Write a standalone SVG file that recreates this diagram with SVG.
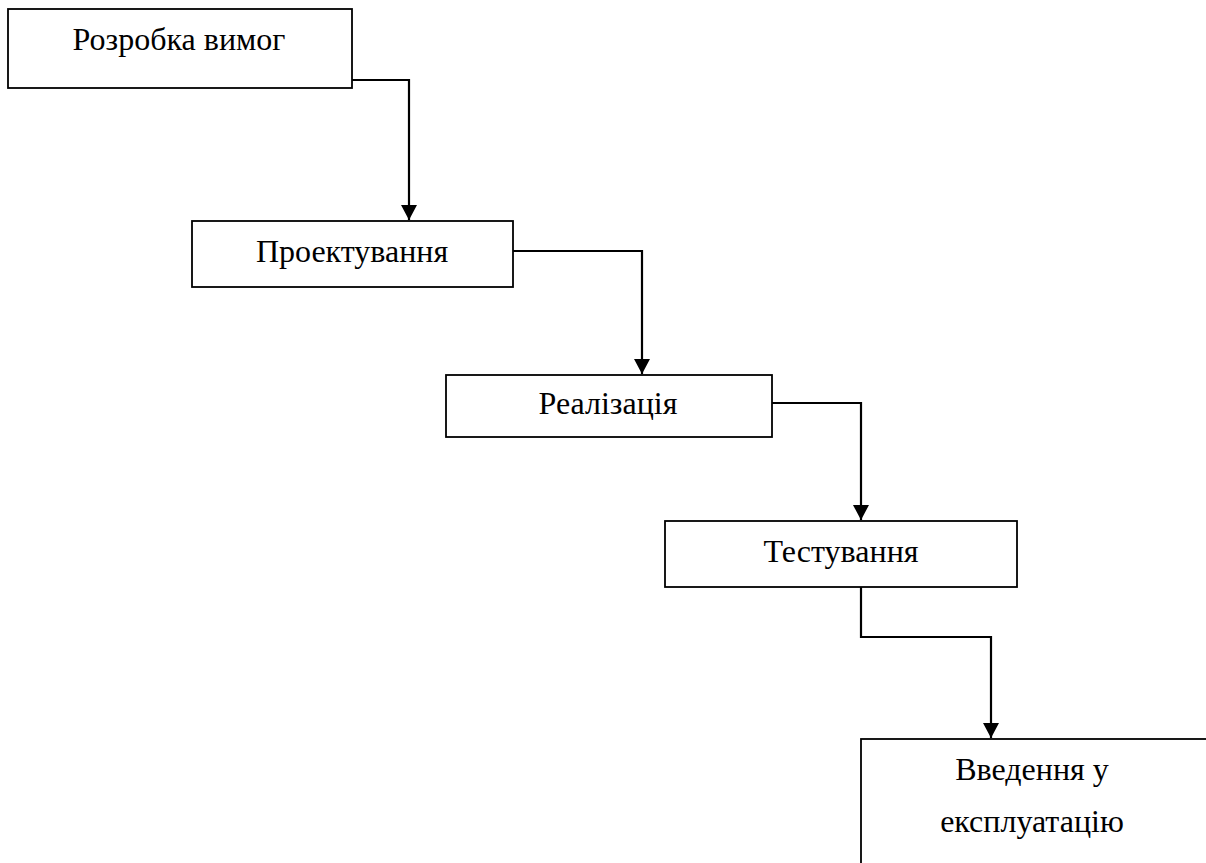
<svg xmlns="http://www.w3.org/2000/svg" width="1206" height="863" viewBox="0 0 1206 863">
  <style>
    .box { fill: #ffffff; stroke: #000000; stroke-width: 1.8; }
    .lbl { font-family: "Liberation Serif", "Times New Roman", serif; font-size: 32px; fill: #000000; text-anchor: middle; }
    .conn { fill: none; stroke: #000000; stroke-width: 2.2; }
  </style>
  <defs>
    <marker id="arrow" markerUnits="userSpaceOnUse" markerWidth="16" markerHeight="16" refX="15" refY="8" orient="auto">
      <path d="M0,0 L15,8 L0,16 z" fill="#000000"/>
    </marker>
  </defs>
  <rect width="1206" height="863" fill="#ffffff"/>
  <g id="n1">
    <rect class="box" x="8" y="9" width="344" height="79"/>
    <text class="lbl" x="179" y="50">Розробка вимог</text>
  </g>
  <g id="n2">
    <rect class="box" x="192" y="221" width="321" height="66"/>
    <text class="lbl" x="352" y="262">Проектування</text>
  </g>
  <g id="n3">
    <rect class="box" x="446" y="375" width="326" height="62"/>
    <text class="lbl" x="608" y="414">Реалізація</text>
  </g>
  <g id="n4">
    <rect class="box" x="665" y="521" width="352" height="66"/>
    <text class="lbl" x="841" y="562">Тестування</text>
  </g>
  <g id="n5">
    <rect class="box" x="861" y="739" width="360" height="140"/>
    <text class="lbl" x="1032" y="780">Введення у</text>
    <text class="lbl" x="1032" y="832">експлуатацію</text>
  </g>
  <g id="connectors">
    <path class="conn" d="M352 80 H409 V220" marker-end="url(#arrow)"/>
    <path class="conn" d="M513 251 H642 V374" marker-end="url(#arrow)"/>
    <path class="conn" d="M772 403 H861 V520" marker-end="url(#arrow)"/>
    <path class="conn" d="M861 587 V637 H991 V738" marker-end="url(#arrow)"/>
  </g>
</svg>
